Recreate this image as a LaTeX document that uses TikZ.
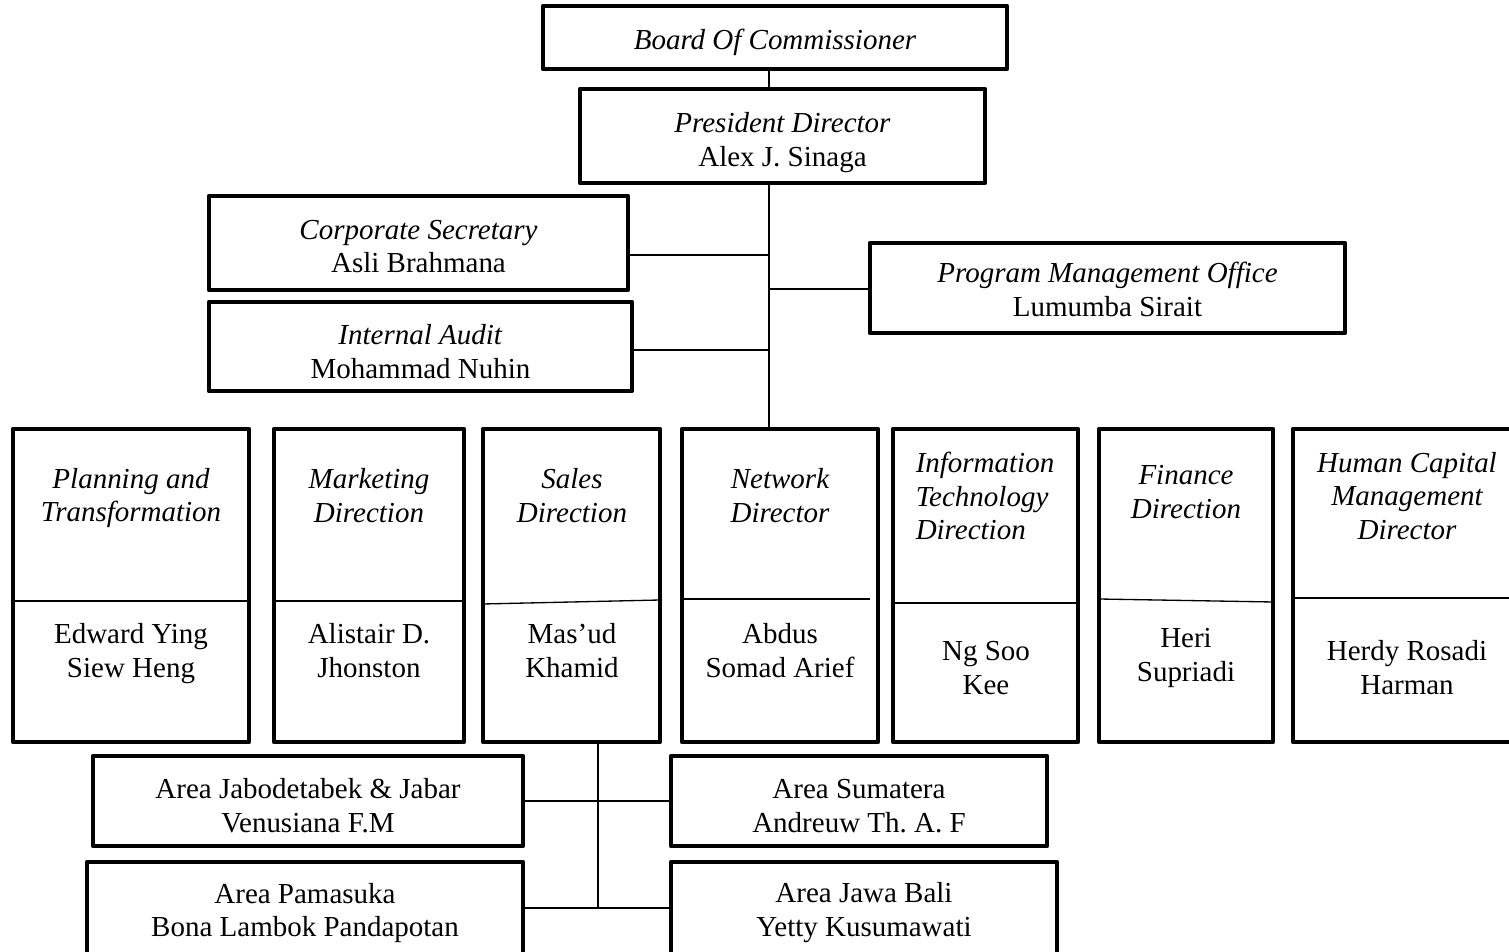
\documentclass[tikz,border=0pt]{standalone}
\usepackage{fontspec}
\setmainfont{Liberation Serif}
\frenchspacing
\usetikzlibrary{fit}

\begin{document}
\begin{tikzpicture}[x=0.02cm,y=-0.02cm,
  every node/.style={font=\fontsize{16.5}{19.3}\selectfont, align=center, inner sep=0pt},
  box/.style={draw, line width=2.6pt, line join=round},
  ttl/.style={font=\fontsize{16.5}{19.3}\selectfont\itshape},
  link/.style={line width=0.75pt}]
  \useasboundingbox (0,0) rectangle (1509,952);
  % top management
  \node[box, fit={(543,6) (1007,69)}] (board) {};
  \node[box, fit={(580,89) (985,183)}] (pres) {};
  \node[box, fit={(209,196) (628,290)}] (corpsec) {};
  \node[box, fit={(209,302) (632,391)}] (audit) {};
  \node[box, fit={(870,243) (1345,333)}] (pmo) {};
  \node[ttl] (boardtxt) at ([yshift=-3] board.center) {Board Of Commissioner};
  \node (prestxt) at ([yshift=-4] pres.center) {\textit{President Director}\\Alex J. Sinaga};
  \node (corpsectxt) at ([yshift=-2] corpsec.center) {\textit{Corporate Secretary}\\Asli Brahmana};
  \node (audittxt) at ([yshift=-3] audit.center) {\textit{Internal Audit}\\Mohammad Nuhin};
  \node (pmotxt) at ([yshift=-1] pmo.center) {\textit{Program Management Office}\\Lumumba Sirait};
  % directors
  \node[box, fit={(13,429) (249,742)}] (planning) {};
  \node[box, fit={(274,429) (464,742)}] (marketing) {};
  \node[box, fit={(483,429) (660,742)}] (sales) {};
  \node[box, fit={(682,429) (878,742)}] (network) {};
  \node[box, fit={(893,429) (1078,742)}] (it) {};
  \node[box, fit={(1099,429) (1273,742)}] (finance) {};
  \node[box, fit={(1293,429) (1525,742)}] (hc) {};
  \node[ttl] (planningttl) at (131,498) {Planning and\\Transformation};
  \node[ttl] (marketingttl) at (369,496) {Marketing\\Direction};
  \node[ttl] (salesttl) at (572,496) {Sales\\Direction};
  \node[ttl] (networkttl) at (780,496) {Network\\Director};
  \node[ttl, align=left] (itttl) at (985,496) {Information\\Technology\\Direction};
  \node[ttl] (financettl) at (1186,492) {Finance\\Direction};
  \node[ttl] (hcttl) at (1407,496) {Human Capital\\Management\\Director};
  \node (planningnm) at (131,654) {Edward Ying\\Siew Heng};
  \node (marketingnm) at (369,651) {Alistair D.\\Jhonston};
  \node (salesnm) at (572,651) {Mas'ud\\Khamid};
  \node (networknm) at (780,651) {Abdus\\Somad Arief};
  \node (itnm) at (986,668) {Ng Soo\\Kee};
  \node (financenm) at (1186,658) {Heri\\Supriadi};
  \node (hcnm) at (1407,668) {Herdy Rosadi\\Harman};
  \draw[link] (13,601) -- (249,601);
  \draw[link] (274,601) -- (464,601);
  \draw[link] (483,604) -- (660,600);
  \draw[link] (682,599) -- (870,599);
  \draw[link] (893,603) -- (1078,603);
  \draw[link] (1099,599) -- (1273,602);
  \draw[link] (1293,598) -- (1525,598);
  % sales areas
  \node[box, fit={(93,756) (523,846)}] (jabo) {};
  \node[box, fit={(671,756) (1047,846)}] (sumatera) {};
  \node[box, fit={(87,862) (523,962)}] (pamasuka) {};
  \node[box, fit={(671,862) (1057,962)}] (jawabali) {};
  \node (jabotxt) at (308,806) {Area Jabodetabek \& Jabar\\Venusiana F.M};
  \node (sumateratxt) at (859,806) {Area Sumatera\\Andreuw Th. A. F};
  \node (pamasukatxt) at (305,913) {Area Pamasuka\\Bona Lambok Pandapotan};
  \node (jawabalitxt) at (864,913) {Area Jawa Bali\\Yetty Kusumawati};
  % connectors
  \coordinate (spine) at (769,0);
  \coordinate (cs) at (769,255);
  \coordinate (pm) at (769,289);
  \coordinate (ia) at (769,350);
  \coordinate (ar1) at (598,801);
  \coordinate (ar2) at (598,908);
  \draw[link] (board.south -| spine) -- (pres.north -| spine);
  \draw[link] (pres.south -| spine) -- (network.north -| spine);
  \draw[link] (corpsec.east |- cs) -- (cs);
  \draw[link] (pm) -- (pmo.west |- pm);
  \draw[link] (audit.east |- ia) -- (ia);
  \draw[link] (sales.south -| ar1) -- (ar2);
  \draw[link] (jabo.east |- ar1) -- (sumatera.west |- ar1);
  \draw[link] (pamasuka.east |- ar2) -- (jawabali.west |- ar2);
\end{tikzpicture}
\end{document}
